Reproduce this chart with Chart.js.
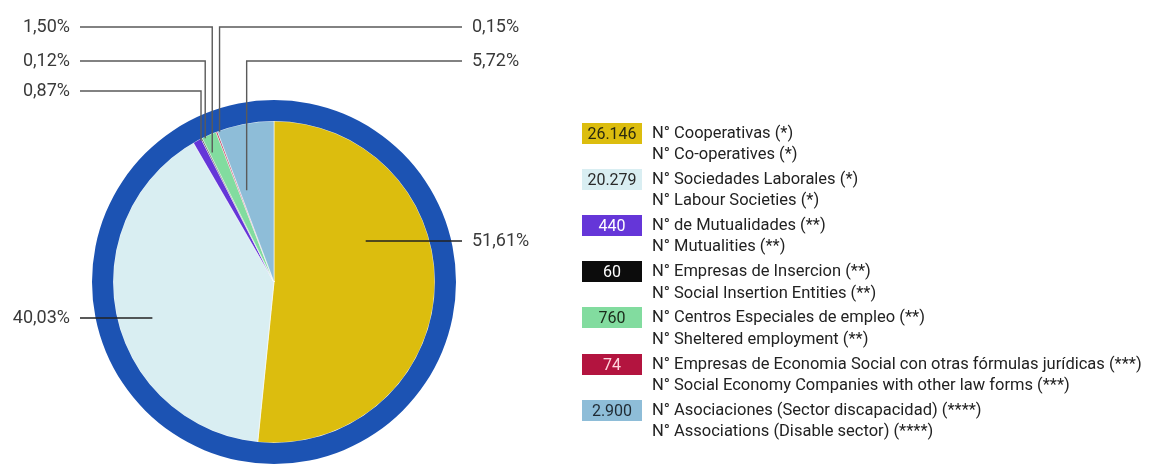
<!DOCTYPE html>
<html><head><meta charset="utf-8">
<script src="https://cdn.jsdelivr.net/npm/chart.js@4.4.0/dist/chart.umd.min.js"></script>
<style>
html,body{margin:0;padding:0;background:#fff;width:1159px;height:465px;overflow:hidden;font-family:Roboto,"Noto Sans",sans-serif}
#wrap{position:absolute;left:0;top:0;width:1159px;height:465px}
#legend{position:absolute;left:582px;top:0;}
.item{position:absolute;left:0;width:570px;height:44px}
.box{position:absolute;left:0;top:0;width:60px;height:21px;font-size:16px;line-height:21px;text-align:center}
.txt{position:absolute;left:70px;top:-1px;font-size:16.5px;line-height:21.5px;color:#222;white-space:nowrap}
</style></head><body>
<div id="wrap"><canvas id="c" width="1159" height="465"></canvas></div>
<div id="legend"></div>
<script>
// ---- data ----
const categoriesEs = [
  "N° Cooperativas (*)",
  "N° Sociedades Laborales (*)",
  "N° de Mutualidades (**)",
  "N° Empresas de Insercion (**)",
  "N° Centros Especiales de empleo (**)",
  "N° Empresas de Economia Social con otras fórmulas jurídicas (***)",
  "N° Asociaciones (Sector discapacidad) (****)"
];
const categoriesEn = [
  "N° Co-operatives (*)",
  "N° Labour Societies (*)",
  "N° Mutualities (**)",
  "N° Social Insertion Entities (**)",
  "N° Sheltered employment (**)",
  "N° Social Economy Companies with other law forms (***)",
  "N° Associations (Disable sector) (****)"
];
const values = [26146, 20279, 440, 60, 760, 74, 2900];

// ---- styles ----
const sliceColors = ["#dcbd0e", "#d9eef2", "#6536d8", "#0c0c0c", "#82dc9f", "#b3143f", "#8ebdd8"];
const boxTextColors = ["#2a2a10", "#2a2a2a", "#ffffff", "#ffffff", "#1a2a1a", "#ffd6de", "#1f2a33"];
const ringColor = "#1c53b3";

// label placement (layout only)
const labelLayout = [
  {type:"straight", side:"right", rowY:241, ax:0.57},
  {type:"straight", side:"left",  rowY:318, ax:-0.756},
  {type:"elbow", side:"left",  rowY:91, fx:0.95, fy:1.0},
  {type:"elbow", side:"left",  rowY:61, fx:0.95, fy:1.0},
  {type:"elbow", side:"left",  rowY:27, fx:0.95, fy:0.88},
  {type:"elbow", side:"right", rowY:27, fx:0.95, fy:1.0},
  {type:"elbow", side:"right", rowY:61, fx:0.95, fy:0.58}
];
const leftTextX = 70, leftLineX = 80, rightLineX = 462, rightTextX = 472;

const total = values.reduce((a,b)=>a+b,0);
const pct = v => (v/total*100).toFixed(2).replace(".", ",") + "%";
const fmt = n => String(n).replace(/\B(?=(\d{3})+(?!\d))/g, ".");

const leaderPlugin = {
  id: "leaders",
  afterDraw(chart){
    const ctx = chart.ctx;
    const meta = chart.getDatasetMeta(1);
    ctx.save();
    ctx.font = "18px Roboto, 'Noto Sans', sans-serif";
    ctx.textBaseline = "middle";
    meta.data.forEach((arc, i) => {
      const p = arc.getProps(["x","y","startAngle","endAngle","outerRadius"], true);
      const mid = (p.startAngle + p.endAngle)/2;
      const L = labelLayout[i];
      const R = p.outerRadius;
      ctx.beginPath();
      if (L.type === "elbow") {
        ctx.strokeStyle = "#5a5a5a";
        ctx.lineWidth = 1.4;
        const vx = p.x + L.fx*R*Math.cos(mid);
        const endY = p.y + L.fy*R*Math.sin(mid);
        const tx = L.side === "left" ? leftLineX : rightLineX;
        ctx.moveTo(tx, L.rowY);
        ctx.lineTo(vx, L.rowY);
        ctx.lineTo(vx, endY);
      } else {
        ctx.strokeStyle = "#222";
        ctx.lineWidth = 1.4;
        const ax = p.x + L.ax*R;
        const tx = L.side === "left" ? leftLineX : rightLineX;
        ctx.moveTo(ax, L.rowY);
        ctx.lineTo(tx, L.rowY);
      }
      ctx.stroke();
      ctx.fillStyle = "#3a3a3a";
      if (L.side === "left") { ctx.textAlign = "right"; ctx.fillText(pct(values[i]), leftTextX, L.rowY); }
      else { ctx.textAlign = "left"; ctx.fillText(pct(values[i]), rightTextX, L.rowY); }
    });
    ctx.restore();
  }
};

new Chart(document.getElementById("c"), {
  type: "pie",
  data: {
    labels: categoriesEs,
    datasets: [
      {data:[1], backgroundColor:[ringColor], borderWidth:0, weight:21},
      {data: values, backgroundColor: sliceColors, borderColor:"rgba(255,255,255,0.55)", borderWidth:1, weight:160}
    ]
  },
  options: {
    responsive:false, animation:false, events:[],
    layout:{padding:{left:0, right:611, top:100, bottom:1}},
    plugins:{legend:{display:false}, tooltip:{enabled:false}}
  },
  plugins:[leaderPlugin]
});

// ---- HTML legend built from the arrays ----
const lg = document.getElementById("legend");
const firstTop = 122.5, step = 46.2;
values.forEach((v,i)=>{
  const it = document.createElement("div");
  it.className = "item";
  it.style.top = (firstTop + i*step) + "px";
  const b = document.createElement("div");
  b.className = "box";
  b.style.background = sliceColors[i];
  b.style.color = boxTextColors[i];
  b.textContent = fmt(v);
  const t = document.createElement("div");
  t.className = "txt";
  const l1 = document.createElement("div"); l1.textContent = categoriesEs[i];
  const l2 = document.createElement("div"); l2.textContent = categoriesEn[i];
  t.appendChild(l1); t.appendChild(l2);
  it.appendChild(b); it.appendChild(t);
  lg.appendChild(it);
});
</script>
</body></html>
